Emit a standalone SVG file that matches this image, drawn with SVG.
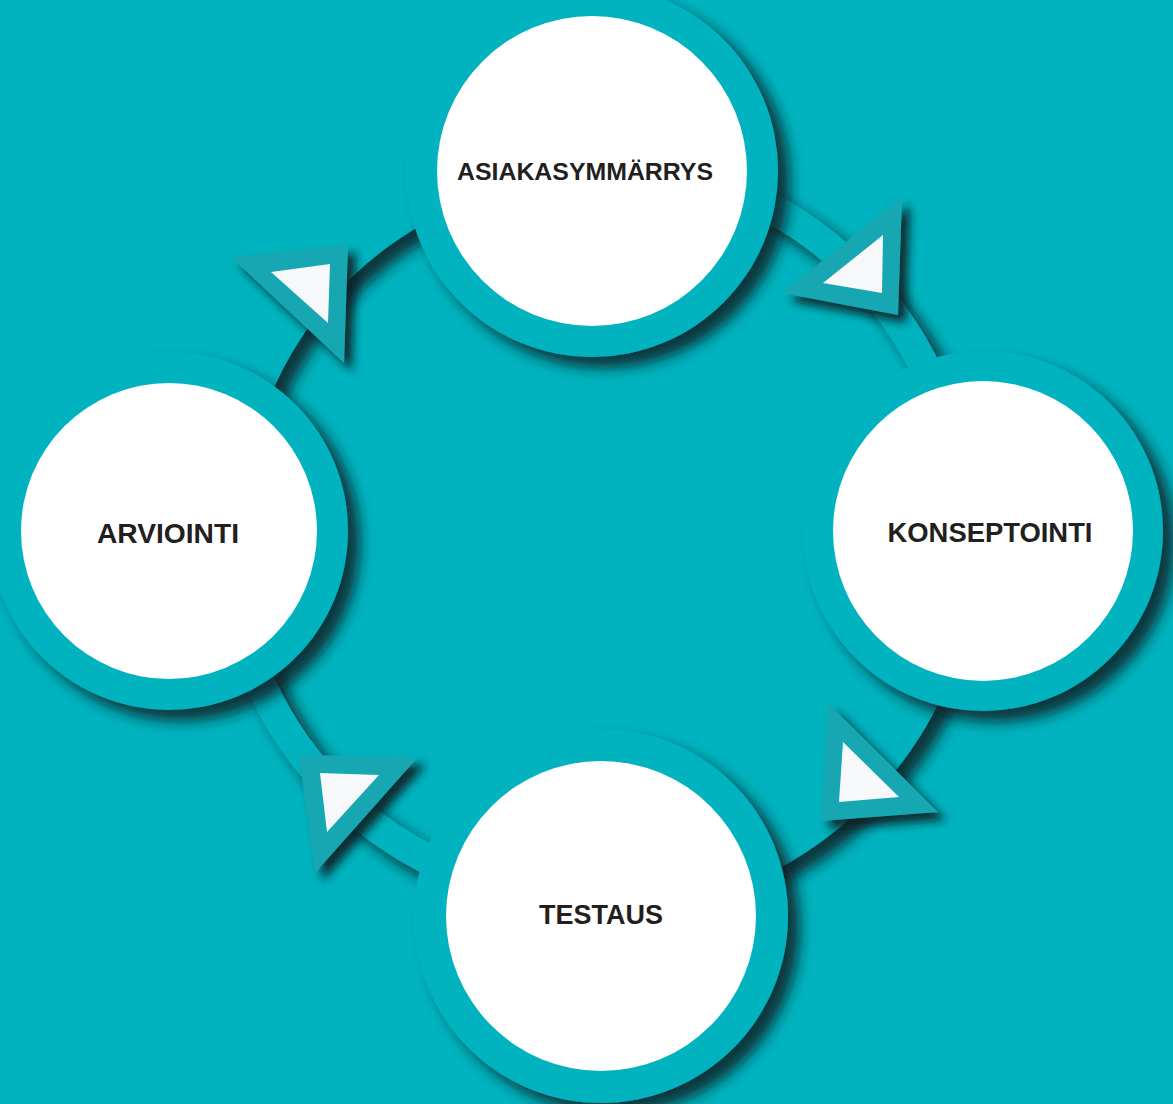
<svg xmlns="http://www.w3.org/2000/svg" width="1173" height="1104" viewBox="0 0 1173 1104">
<defs>
<filter id="sh" x="-20%" y="-20%" width="150%" height="150%">
<feDropShadow dx="12" dy="11" stdDeviation="7" flood-color="#0c2227" flood-opacity="0.85"/>
</filter>
<filter id="tsh" x="-30%" y="-30%" width="170%" height="170%">
<feDropShadow dx="8" dy="8" stdDeviation="5" flood-color="#0c1f23" flood-opacity="0.9"/>
</filter>
</defs>
<style>
.bg{fill:#00B3BE}
.band{fill:none;stroke:#00B3BE;stroke-width:30}
.ring{fill:#00B3BE}
.disc{fill:#FFFFFF}
.tri{fill:#17A7B3}
.tri-in{fill:#F7F8F9}
.lbl{font-family:"Liberation Sans",Arial,sans-serif;font-weight:bold;fill:#231F20;text-anchor:middle}
</style>
<rect class="bg" x="0" y="0" width="1173" height="1104"/>
<g id="connectors">
<circle class="band" cx="596" cy="532" r="368" filter="url(#sh)"/>
<g id="arrow-tr">
<polygon class="tri" points="902,197 782,293 898,315" filter="url(#tsh)"/>
<polygon class="tri-in" points="883,235 823,283 882,293"/>
</g>
<g id="arrow-br">
<polygon class="tri" points="828,703 821,821 938,812" filter="url(#tsh)"/>
<polygon class="tri-in" points="843,742 839,802 899,797"/>
</g>
<g id="arrow-bl">
<polygon class="tri" points="299,755 418,757 315,873" filter="url(#tsh)"/>
<polygon class="tri-in" points="320,773 379,775 327,832"/>
</g>
<g id="arrow-tl">
<polygon class="tri" points="231,257 348,245 344,363" filter="url(#tsh)"/>
<polygon class="tri-in" points="271,272 330,264 328,323"/>
</g>
</g>
<g id="node-asiakasymmarrys">
<circle class="ring" cx="592" cy="171" r="186" filter="url(#sh)"/>
<circle class="disc" cx="592" cy="171" r="155"/>
<text class="lbl" x="585" y="180" font-size="24" textLength="256" lengthAdjust="spacingAndGlyphs">ASIAKASYMMÄRRYS</text>
</g>
<g id="node-konseptointi">
<circle class="ring" cx="983" cy="531" r="180" filter="url(#sh)"/>
<circle class="disc" cx="983" cy="531" r="150"/>
<text class="lbl" x="990" y="542" font-size="27.5" textLength="205" lengthAdjust="spacingAndGlyphs">KONSEPTOINTI</text>
</g>
<g id="node-testaus">
<circle class="ring" cx="601" cy="916" r="187" filter="url(#sh)"/>
<circle class="disc" cx="601" cy="916" r="155"/>
<text class="lbl" x="601" y="924" font-size="27.5" textLength="124" lengthAdjust="spacingAndGlyphs">TESTAUS</text>
</g>
<g id="node-arviointi">
<circle class="ring" cx="169" cy="531" r="179" filter="url(#sh)"/>
<circle class="disc" cx="169" cy="531" r="148"/>
<text class="lbl" x="168" y="543" font-size="27.5" textLength="142" lengthAdjust="spacingAndGlyphs">ARVIOINTI</text>
</g>
</svg>
